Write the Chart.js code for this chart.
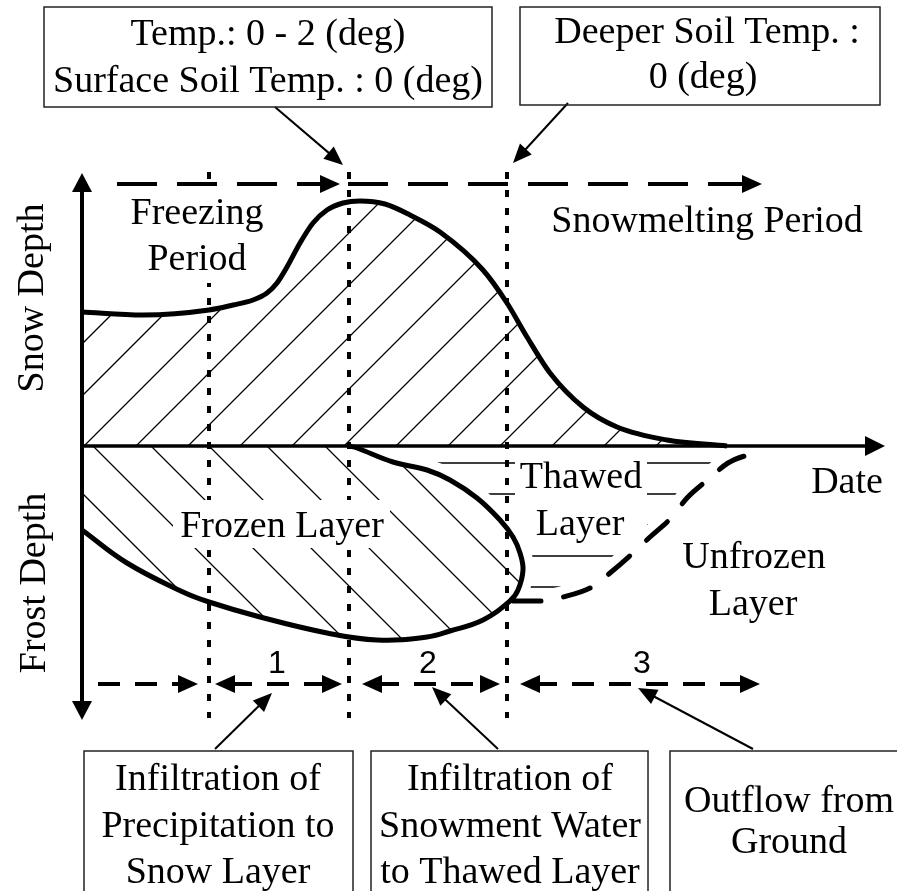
<!DOCTYPE html>
<html>
<head>
<meta charset="utf-8">
<title>Snow depth and frost depth</title>
<script src="https://cdn.jsdelivr.net/npm/chart.js@4.4.0/dist/chart.umd.min.js"></script>
<style>
  html, body { margin: 0; padding: 0; background: #fff; }
  canvas { display: block; }
</style>
</head>
<body>
<canvas id="diagram" width="897" height="891"></canvas>
<script>
// snow depth over the season (date and depth in arbitrary units, origin = start of axes)
const snowDate  = [0, 61, 127, 151, 171, 185, 195, 205, 218, 231, 245, 261, 278, 303, 328, 358, 401, 425, 445, 468, 501, 535, 585, 645];
const snowDepth = [134, 131, 136, 141, 146, 153, 163, 179, 203, 223, 236, 243, 245, 242, 231, 214, 176, 143, 109, 73, 39, 19, 6, 0];

// frozen layer outline: thawing front going down from the surface, then frost front back to date 0
const frostDate  = [267, 275, 311, 345, 368, 395, 418, 431, 438, 441, 436, 428, 401, 368, 345, 295, 245, 178, 127, 101, 45, 0];
const frostDepth = [0, -2, -16, -24, -34, -52, -74, -91, -107, -124, -144, -155, -174, -185, -191, -194, -187, -171, -156, -146, -117, -84];
const thawJoin = 11; // index where the thawing front meets the frost front

// lower limit of the thawed layer (dashed)
const unfrozenDate  = [431, 458, 481, 510, 528, 551, 568, 590, 605, 628, 646, 675];
const unfrozenDepth = [-155, -155, -151, -141, -127, -107, -91, -71, -52, -32, -17, -6];

// period boundaries (dotted) and period names
const periodBounds = [127, 267, 425];
const periodNames = ["1", "2", "3"];

const SERIF = "38px 'Liberation Serif', 'Times New Roman', serif";
const SANS = "32px 'Liberation Sans', Arial, sans-serif";

function pts(xs, ys) {
	return xs.map((x, i) => ({ x: x, y: ys[i] }));
}

// follow the same bezier path chart.js used for a line
function trace(ctx, points, from, to, move) {
	for (let i = from; i <= to; i++) {
		const p = points[i];
		if (i === from) {
			if (move) ctx.moveTo(p.x, p.y);
			else ctx.lineTo(p.x, p.y);
			continue;
		}
		const q = points[i - 1];
		if (q.cp2x !== undefined && p.cp1x !== undefined) {
			ctx.bezierCurveTo(q.cp2x, q.cp2y, p.cp1x, p.cp1y, p.x, p.y);
		} else {
			ctx.lineTo(p.x, p.y);
		}
	}
}

function head(ctx, tx, ty, ux, uy, len, half) {
	const bx = tx - ux * len, by = ty - uy * len;
	ctx.beginPath();
	ctx.moveTo(tx, ty);
	ctx.lineTo(bx - uy * half, by + ux * half);
	ctx.lineTo(bx + uy * half, by - ux * half);
	ctx.closePath();
	ctx.fill();
}

function scalers(chart) {
	const sx = chart.scales.x, sy = chart.scales.y;
	return [(v) => sx.getPixelForValue(v), (v) => sy.getPixelForValue(v)];
}

// white patches behind labels that sit on hatching / dotted lines
const textBacks = [
	[46, 258, 184, 163],
	[91, -54, 308, -102],
	[433, -9, 565, -102],
];

const hatchPlugin = {
	id: "hatch",
	beforeDatasetsDraw(chart) {
		const ctx = chart.ctx;
		const [X, Y] = scalers(chart);
		const snow = chart.getDatasetMeta(0).data;
		const frost = chart.getDatasetMeta(1).data;
		const unfr = chart.getDatasetMeta(2).data;
		const W = chart.width, H = chart.height;

		ctx.save();
		ctx.fillStyle = "#fff";
		ctx.fillRect(0, 0, W, H);
		ctx.strokeStyle = "#000";
		ctx.lineWidth = 1.3;

		// snow cover "/"
		ctx.save();
		ctx.beginPath();
		trace(ctx, snow, 0, snow.length - 1, true);
		ctx.lineTo(X(0), Y(0));
		ctx.closePath();
		ctx.clip();
		ctx.beginPath();
		for (let c = 530 - 52 * 10; c < W + H; c += 52) {
			ctx.moveTo(c, 0);
			ctx.lineTo(c - H, H);
		}
		ctx.stroke();
		ctx.restore();

		// frozen layer "\"
		ctx.save();
		ctx.beginPath();
		trace(ctx, frost, 0, frost.length - 1, true);
		ctx.lineTo(X(0), Y(0));
		ctx.closePath();
		ctx.clip();
		ctx.beginPath();
		for (let c = -353 - 58 * 8; c < W; c += 58) {
			ctx.moveTo(c, 0);
			ctx.lineTo(c + H, H);
		}
		ctx.stroke();
		ctx.restore();

		// thawed layer "-"
		ctx.save();
		ctx.beginPath();
		trace(ctx, frost, 0, thawJoin, true);
		trace(ctx, unfr, 0, unfr.length - 1, false);
		ctx.lineTo(unfr[unfr.length - 1].x, Y(0));
		ctx.lineTo(X(frostDate[0]), Y(0));
		ctx.closePath();
		ctx.clip();
		ctx.beginPath();
		for (let k = 0; k < 6; k++) {
			const y = Y(0) + 17 + 31 * k;
			ctx.moveTo(0, y);
			ctx.lineTo(W, y);
		}
		ctx.stroke();
		// keep the lines a little off the fronts
		ctx.beginPath();
		trace(ctx, frost, 0, thawJoin, true);
		trace(ctx, unfr, 0, unfr.length - 1, false);
		ctx.strokeStyle = "#fff";
		ctx.lineWidth = 22;
		ctx.stroke();
		ctx.restore();

		ctx.restore();
	},
	afterDatasetDraw(chart, args) {
		if (!chart.data.datasets[args.index].isBoundary) return;
		const ctx = chart.ctx;
		const [X, Y] = scalers(chart);
		ctx.save();
		ctx.fillStyle = "#fff";
		textBacks.forEach(([x1, y1, x2, y2]) => {
			ctx.fillRect(X(x1), Y(y1), X(x2) - X(x1), Y(y2) - Y(y1));
		});
		ctx.restore();
	},
	afterDatasetsDraw(chart) {
		const ctx = chart.ctx;
		const [X, Y] = scalers(chart);
		ctx.save();
		ctx.fillStyle = "#000";
		ctx.strokeStyle = "#000";

		// axes
		ctx.lineWidth = 4;
		ctx.beginPath();
		ctx.moveTo(X(0), Y(256));
		ctx.lineTo(X(0), Y(-256));
		ctx.stroke();
		head(ctx, X(0), Y(273), 0, -1, 19, 10);
		head(ctx, X(0), Y(-274), 0, 1, 19, 10);
		ctx.lineWidth = 3.5;
		ctx.beginPath();
		ctx.moveTo(X(0), Y(0));
		ctx.lineTo(X(786), Y(0));
		ctx.stroke();
		head(ctx, X(803), Y(0), 1, 0, 20, 10);

		// period arrows
		const periodArrows = [
			{ y: 262, from: 35, to: 238, dash: [40, 20], heads: [[258, 1]] },
			{ y: 262, from: 266, to: 660, dash: [40, 20], heads: [[680, 1]] },
			{ y: -238, from: 16, to: 96, dash: [22, 15], heads: [[116, 1]] },
			{ y: -238, from: 148, to: 240, dash: [22, 15], heads: [[133, -1], [260, 1]] },
			{ y: -238, from: 295, to: 398, dash: [22, 15], heads: [[280, -1], [418, 1]] },
			{ y: -238, from: 453, to: 658, dash: [22, 15], heads: [[438, -1], [678, 1]] },
		];
		ctx.lineWidth = 4;
		periodArrows.forEach((a) => {
			ctx.setLineDash(a.dash);
			ctx.beginPath();
			ctx.moveTo(X(a.from), Y(a.y));
			ctx.lineTo(X(a.to), Y(a.y));
			ctx.stroke();
			ctx.setLineDash([]);
			a.heads.forEach(([x, d]) => head(ctx, X(x), Y(a.y), d, 0, 20, 9));
		});

		// pointer arrows from the boxes
		const pointers = [
			[193, 339, 261, 281],
			[486, 343, 431, 283],
			[133, -303, 190, -247],
			[416, -303, 350, -241],
			[671, -303, 556, -242],
		];
		ctx.lineWidth = 2;
		pointers.forEach(([x1, y1, x2, y2]) => {
			const ax = X(x1), ay = Y(y1), bx = X(x2), by = Y(y2);
			const len = Math.hypot(bx - ax, by - ay);
			const ux = (bx - ax) / len, uy = (by - ay) / len;
			ctx.beginPath();
			ctx.moveTo(ax, ay);
			ctx.lineTo(bx - ux * 16, by - uy * 16);
			ctx.stroke();
			head(ctx, bx, by, ux, uy, 19, 8);
		});

		// boxes
		const boxes = [
			[-38, 439, 410, 339],
			[438, 439, 798, 341],
			[2, -305, 271, -452],
			[289, -305, 566, -452],
			[588, -305, 820, -452],
		];
		ctx.lineWidth = 1.5;
		ctx.strokeStyle = "#222";
		boxes.forEach(([x1, y1, x2, y2]) => {
			ctx.strokeRect(X(x1), Y(y1), X(x2) - X(x1), Y(y2) - Y(y1));
		});

		// texts
		const texts = [
			[186, 401, "Temp.: 0 - 2 (deg)"],
			[186, 354, "Surface Soil Temp. : 0 (deg)"],
			[625, 403, "Deeper Soil Temp. :"],
			[621, 358, "0 (deg)"],
			[115, 222, "Freezing"],
			[115, 176, "Period"],
			[625, 214, "Snowmelting Period"],
			[200, -91, "Frozen Layer"],
			[499, -42, "Thawed"],
			[498, -89, "Layer"],
			[765, -47, "Date"],
			[672, -122, "Unfrozen"],
			[671, -169, "Layer"],
			[136, -344, "Infiltration of"],
			[136, -391, "Precipitation to"],
			[136, -437, "Snow Layer"],
			[428, -344, "Infiltration of"],
			[428, -391, "Snowment Water"],
			[428, -437, "to Thawed Layer"],
			[707, -366, "Outflow from"],
			[707, -407, "Ground"],
		];
		ctx.font = SERIF;
		ctx.textAlign = "center";
		ctx.textBaseline = "alphabetic";
		texts.forEach(([x, y, t]) => ctx.fillText(t, X(x), Y(y)));

		[[-39, 148, "Snow Depth"], [-37, -137, "Frost Depth"]].forEach(([x, y, t]) => {
			ctx.save();
			ctx.translate(X(x), Y(y));
			ctx.rotate(-Math.PI / 2);
			ctx.fillText(t, 0, 0);
			ctx.restore();
		});

		ctx.font = SANS;
		[195, 346, 560].forEach((x, i) => ctx.fillText(periodNames[i], X(x), Y(-227)));

		ctx.restore();
	},
};

const curve = {
	borderColor: "#000",
	borderWidth: 5,
	pointRadius: 0,
	fill: false,
	order: 1,
};

const boundarySets = periodBounds.map((b) => ({
	data: [{ x: b, y: 274 }, { x: b, y: -272 }],
	borderColor: "#000",
	borderWidth: 4,
	borderDash: [7, 11],
	borderCapStyle: "butt",
	pointRadius: 0,
	fill: false,
	order: 2,
	isBoundary: true,
}));

new Chart(document.getElementById("diagram"), {
	type: "line",
	data: {
		datasets: [
			{ ...curve, label: "Snow depth", data: pts(snowDate, snowDepth), cubicInterpolationMode: "monotone" },
			{ ...curve, label: "Frozen layer", data: pts(frostDate, frostDepth), tension: 0.4 },
			{ ...curve, label: "Unfrozen layer", data: pts(unfrozenDate, unfrozenDepth), cubicInterpolationMode: "monotone", borderDash: [28, 23], borderCapStyle: "round" },
			...boundarySets,
		],
	},
	options: {
		responsive: false,
		animation: false,
		events: [],
		layout: { padding: 0 },
		plugins: {
			legend: { display: false },
			tooltip: { enabled: false },
		},
		scales: {
			x: { type: "linear", min: -82, max: 815, display: false },
			y: { type: "linear", min: -445, max: 446, display: false },
		},
	},
	plugins: [hatchPlugin],
});
</script>
</body>
</html>
